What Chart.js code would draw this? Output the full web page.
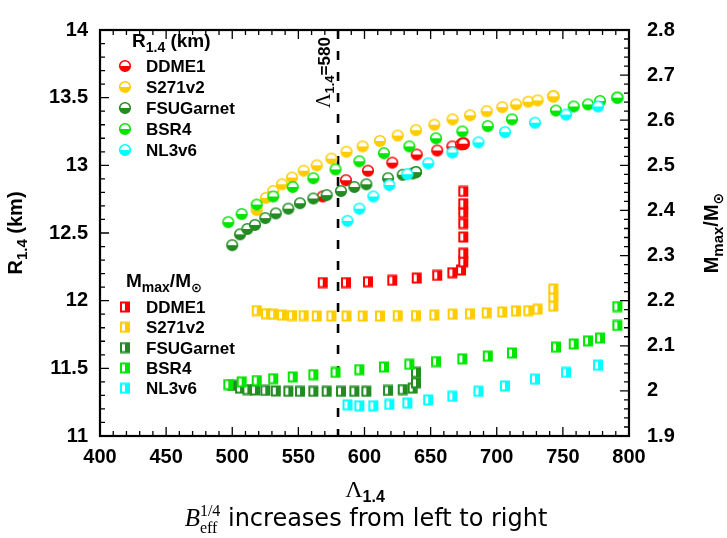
<!DOCTYPE html>
<html>
<head>
<meta charset="utf-8">
<script src="https://cdn.jsdelivr.net/npm/chart.js@4.4.1/dist/chart.umd.min.js"></script>
<style>
  html, body { margin: 0; padding: 0; background: #fff; }
  #wrap { position: relative; width: 727px; height: 538px; }
</style>
</head>
<body>
<div id="wrap"><canvas id="chart" width="727" height="538"></canvas></div>
<script>
// values: Lambda_1.4, R_1.4 (km), Mmax/Msun for each model
const models = ['DDME1', 'S271v2', 'FSUGarnet', 'BSR4', 'NL3v6'];
const colors = ['#ff0000', '#ffcc00', '#228b22', '#00e600', '#00ffff'];

const lambdaDDME1 = [568.4, 586.0, 602.6, 621.0, 639.5, 655.0, 666.4, 673.0, 674.7, 674.7, 674.7, 674.7, 674.7, 674.7, 674.7];
const rDDME1 = [12.77, 12.89, 12.96, 13.02, 13.08, 13.11, 13.14, 13.155, 13.16, 13.16, 13.16, 13.16, 13.16, 13.16, 13.16];
const mDDME1 = [2.240, 2.240, 2.242, 2.245, 2.250, 2.256, 2.262, 2.268, 2.286, 2.305, 2.341, 2.371, 2.395, 2.415, 2.442];

const lambdaS271v2 = [518.5, 525.5, 531.0, 537.6, 545.2, 554.0, 563.9, 575.0, 586.4, 598.6, 611.7, 625.1, 638.9, 652.8, 666.6, 679.8, 692.4, 704.2, 714.6, 723.9, 730.9, 742.8, 742.8, 742.8];
const rS271v2 = [12.67, 12.76, 12.81, 12.86, 12.91, 12.96, 13.0, 13.05, 13.1, 13.14, 13.18, 13.22, 13.26, 13.3, 13.34, 13.37, 13.4, 13.43, 13.45, 13.47, 13.48, 13.51, 13.51, 13.51];
const mS271v2 = [2.178, 2.171, 2.170, 2.168, 2.167, 2.167, 2.166, 2.166, 2.166, 2.166, 2.166, 2.167, 2.167, 2.168, 2.170, 2.171, 2.173, 2.175, 2.177, 2.178, 2.181, 2.188, 2.208, 2.226];

const lambdaFSUGarnet = [500.0, 505.9, 511.4, 517.2, 525.0, 532.9, 542.4, 551.2, 561.3, 571.4, 582.2, 592.3, 601.4, 617.8, 628.9, 636.4, 638.9, 638.9];
const rFSUGarnet = [12.41, 12.49, 12.53, 12.56, 12.61, 12.645, 12.68, 12.72, 12.755, 12.78, 12.81, 12.84, 12.86, 12.905, 12.93, 12.94, 12.95, 12.95];
const mFSUGarnet = [2.012, 2.006, 2.003, 2.002, 2.001, 2.000, 1.999, 1.999, 1.999, 1.999, 1.999, 1.999, 1.999, 2.001, 2.003, 2.006, 2.018, 2.041];

const lambdaBSR4 = [497.0, 507.1, 518.5, 531.0, 545.7, 561.3, 578.1, 596.1, 614.7, 633.9, 654.1, 674.0, 693.2, 711.5, 744.8, 758.2, 769.0, 778.1, 791.2, 791.2];
const rBSR4 = [12.58, 12.64, 12.71, 12.77, 12.84, 12.905, 12.97, 13.03, 13.09, 13.14, 13.2, 13.25, 13.29, 13.34, 13.405, 13.435, 13.45, 13.475, 13.5, 13.5];
const mBSR4 = [2.014, 2.020, 2.023, 2.027, 2.031, 2.036, 2.041, 2.047, 2.053, 2.059, 2.065, 2.071, 2.077, 2.084, 2.097, 2.104, 2.111, 2.117, 2.145, 2.187];

const lambdaNL3v6 = [587.1, 596.1, 606.7, 618.8, 632.4, 648.2, 666.4, 686.2, 706.2, 728.9, 752.4, 776.6];
const rNL3v6 = [12.59, 12.68, 12.77, 12.855, 12.935, 13.015, 13.095, 13.17, 13.245, 13.315, 13.375, 13.435];
const mNL3v6 = [1.969, 1.967, 1.967, 1.970, 1.973, 1.980, 1.988, 1.999, 2.011, 2.026, 2.041, 2.057];

const lambdaCut = 580;

const lambdas = [lambdaDDME1, lambdaS271v2, lambdaFSUGarnet, lambdaBSR4, lambdaNL3v6];
const radii = [rDDME1, rS271v2, rFSUGarnet, rBSR4, rNL3v6];
const masses = [mDDME1, mS271v2, mFSUGarnet, mBSR4, mNL3v6];

// half-filled markers like the gnuplot ones
function circleIcon(color) {
    const c = document.createElement('canvas');
    c.width = 14; c.height = 14;
    const g = c.getContext('2d');
    g.beginPath(); g.arc(7, 7, 5.3, 0, Math.PI * 2);
    g.fillStyle = '#fff'; g.fill();
    g.beginPath(); g.arc(7, 7, 5.3, 0, Math.PI); g.closePath();
    g.fillStyle = color; g.fill();
    g.beginPath(); g.arc(7, 7, 5.3, 0, Math.PI * 2);
    g.lineWidth = 1.6; g.strokeStyle = color; g.stroke();
    return c;
}

function squareIcon(color) {
    const c = document.createElement('canvas');
    c.width = 12; c.height = 12;
    const g = c.getContext('2d');
    g.fillStyle = color;
    g.fillRect(1, 0.5, 10, 11);
    g.fillStyle = '#fff';
    g.fillRect(3, 2.5, 3, 7);
    return c;
}

const circles = colors.map(circleIcon);
const squares = colors.map(squareIcon);

const datasets = [];
models.forEach((name, i) => {
    datasets.push({
        label: name,
        data: lambdas[i].map((x, k) => ({ x: x, y: radii[i][k] })),
        yAxisID: 'y',
        pointStyle: circles[i],
        pointRadius: 6,
        order: 20 - i,
    });
});
models.forEach((name, i) => {
    datasets.push({
        label: name,
        data: lambdas[i].map((x, k) => ({ x: x, y: masses[i][k] })),
        yAxisID: 'y2',
        pointStyle: squares[i],
        pointRadius: 6,
        order: 10 - i,
    });
});

const SANS = '"Liberation Sans", Arial, sans-serif';
const SERIF = '"Liberation Serif", "Times New Roman", serif';

function richWidth(ctx, parts) {
    let w = 0;
    for (const p of parts) {
        ctx.font = p.font;
        if (!p.stack) w += ctx.measureText(p.t).width;
    }
    return w;
}

function rich(ctx, parts, x, y) {
    let cx = x;
    let last = 0;
    for (const p of parts) {
        ctx.font = p.font;
        const w = ctx.measureText(p.t).width;
        if (p.stack) {
            ctx.fillText(p.t, cx - last, y + (p.dy || 0));
        } else {
            ctx.fillText(p.t, cx, y + (p.dy || 0));
            cx += w;
            last = w;
        }
    }
}

const decor = {
    id: 'decor',
    beforeDatasetsDraw(chart) {
        const { ctx, chartArea: ca, scales } = chart;
        const px = scales.x.getPixelForValue(lambdaCut);
        ctx.save();
        ctx.strokeStyle = '#000';
        ctx.lineWidth = 2.6;
        ctx.setLineDash([9, 12]);
        ctx.beginPath();
        ctx.moveTo(px, ca.top);
        ctx.lineTo(px, ca.bottom);
        ctx.stroke();
        ctx.restore();
    },
    afterDraw(chart) {
        const { ctx, chartArea: ca, scales } = chart;
        ctx.save();
        ctx.strokeStyle = '#000';
        ctx.fillStyle = '#000';

        // ticks, drawn inward
        ctx.lineWidth = 1.3;
        ctx.beginPath();
        for (let i = 0; i <= 40; i++) {
            const p = scales.x.getPixelForValue(400 + i * 10);
            const len = i % 5 === 0 ? 9 : 5;
            ctx.moveTo(p, ca.bottom); ctx.lineTo(p, ca.bottom - len);
            ctx.moveTo(p, ca.top); ctx.lineTo(p, ca.top + len);
        }
        for (let i = 0; i <= 30; i++) {
            const p = scales.y.getPixelForValue(11 + i * 0.1);
            const len = i % 5 === 0 ? 9 : 5;
            ctx.moveTo(ca.left, p); ctx.lineTo(ca.left + len, p);
        }
        for (let i = 0; i <= 45; i++) {
            const p = scales.y2.getPixelForValue(1.9 + i * 0.02);
            const len = i % 5 === 0 ? 9 : 5;
            ctx.moveTo(ca.right, p); ctx.lineTo(ca.right - len, p);
        }
        ctx.stroke();

        // frame
        ctx.lineWidth = 2.2;
        ctx.strokeRect(ca.left, ca.top, ca.right - ca.left, ca.bottom - ca.top);

        ctx.textAlign = 'left';
        ctx.textBaseline = 'alphabetic';

        // Lambda_1.4 = 580 label, vertical
        const cutPx = scales.x.getPixelForValue(lambdaCut);
        ctx.save();
        ctx.translate(cutPx - 8, 108);
        ctx.rotate(-Math.PI / 2);
        rich(ctx, [
            { t: 'Λ', font: '20px ' + SERIF },
            { t: '1.4', font: 'bold 13px ' + SANS, dy: 4 },
            { t: '=580', font: 'bold 17px ' + SANS },
        ], 0, 0);
        ctx.restore();

        // legend for R_1.4
        rich(ctx, [
            { t: 'R', font: 'bold 19px ' + SANS },
            { t: '1.4', font: 'bold 14px ' + SANS, dy: 5 },
            { t: ' (km)', font: 'bold 19px ' + SANS },
        ], 132, 47);
        models.forEach((name, i) => {
            const cy = 66 + i * 21;
            ctx.drawImage(circles[i], 125 - 7, cy - 7);
            ctx.font = 'bold 17px ' + SANS;
            ctx.fillText(name, 146, cy + 6);
        });

        // legend for Mmax/Msun
        rich(ctx, [
            { t: 'M', font: 'bold 19px ' + SANS },
            { t: 'max', font: 'bold 14px ' + SANS, dy: 5 },
            { t: '/M', font: 'bold 19px ' + SANS },
            { t: '⊙', font: 'bold 13px "DejaVu Sans", sans-serif', dy: 5 },
        ], 126, 287);
        models.forEach((name, i) => {
            const cy = 307 + i * 20.3;
            ctx.drawImage(squares[i], 125 - 6, cy - 6);
            ctx.font = 'bold 17px ' + SANS;
            ctx.fillText(name, 146, cy + 6);
        });

        // left axis title
        const leftTitle = [
            { t: 'R', font: 'bold 20px ' + SANS },
            { t: '1.4', font: 'bold 15px ' + SANS, dy: 5 },
            { t: ' (km)', font: 'bold 20px ' + SANS },
        ];
        let w = richWidth(ctx, leftTitle);
        ctx.save();
        ctx.translate(22, (ca.top + ca.bottom) / 2);
        ctx.rotate(-Math.PI / 2);
        rich(ctx, leftTitle, -w / 2, 0);
        ctx.restore();

        // right axis title
        const rightTitle = [
            { t: 'M', font: 'bold 20px ' + SANS },
            { t: 'max', font: 'bold 15px ' + SANS, dy: 5 },
            { t: '/M', font: 'bold 20px ' + SANS },
            { t: '⊙', font: 'bold 14px "DejaVu Sans", sans-serif', dy: 5 },
        ];
        w = richWidth(ctx, rightTitle);
        ctx.save();
        ctx.translate(718, (ca.top + ca.bottom) / 2);
        ctx.rotate(-Math.PI / 2);
        rich(ctx, rightTitle, -w / 2, 0);
        ctx.restore();

        // bottom axis title
        const xTitle = [
            { t: 'Λ', font: '24px ' + SERIF },
            { t: '1.4', font: 'bold 16px ' + SANS, dy: 5 },
        ];
        w = richWidth(ctx, xTitle);
        rich(ctx, xTitle, 365 - w / 2, 497);

        // caption
        const caption = [
            { t: 'B', font: 'italic 25px ' + SERIF },
            { t: '1/4', font: '16px ' + SERIF, dy: -10 },
            { t: 'eff', font: '16px ' + SERIF, dy: 7, stack: true },
            { t: ' increases from left to right', font: '24px "DejaVu Sans", sans-serif' },
        ];
        w = richWidth(ctx, caption);
        rich(ctx, caption, 366 - w / 2, 526);

        ctx.restore();
    },
};

const tickFont = { family: SANS, size: 20, weight: 'bold' };
const fmt = (v) => String(+v.toFixed(2));

new Chart(document.getElementById('chart'), {
    type: 'scatter',
    data: { datasets: datasets },
    options: {
        responsive: false,
        animation: false,
        layout: { padding: { top: 15, left: 0, right: 0, bottom: 0 } },
        plugins: { legend: { display: false }, tooltip: { enabled: false } },
        scales: {
            x: {
                type: 'linear',
                min: 400, max: 800,
                grid: { display: false, drawTicks: false },
                border: { display: false },
                ticks: { stepSize: 50, font: tickFont, color: '#000', padding: 9, callback: fmt },
                afterFit: (s) => { s.height = 102; },
            },
            y: {
                type: 'linear',
                position: 'left',
                min: 11, max: 14,
                grid: { display: false, drawTicks: false },
                border: { display: false },
                ticks: { stepSize: 0.5, font: tickFont, color: '#000', padding: 12, callback: fmt },
                afterFit: (s) => { s.width = 100; },
            },
            y2: {
                type: 'linear',
                position: 'right',
                min: 1.9, max: 2.8,
                grid: { display: false, drawTicks: false },
                border: { display: false },
                ticks: { stepSize: 0.1, font: tickFont, color: '#000', padding: 18, callback: fmt },
                afterFit: (s) => { s.width = 98; },
            },
        },
    },
    plugins: [decor],
});
</script>
</body>
</html>
